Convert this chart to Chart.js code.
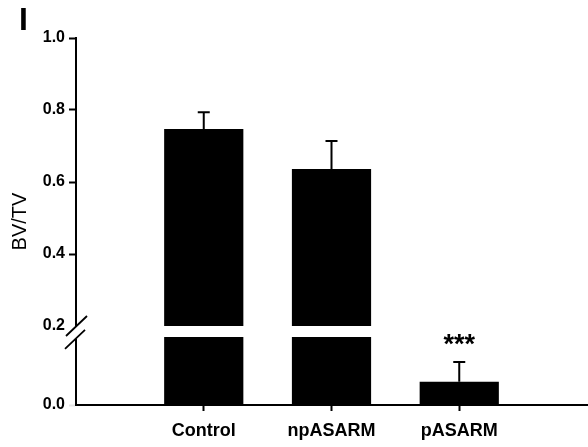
<!DOCTYPE html>
<html>
<head>
<meta charset="utf-8">
<script src="https://cdn.jsdelivr.net/npm/chart.js@4.4.1/dist/chart.umd.min.js"></script>
<style>
  html, body { margin: 0; padding: 0; background: #fff; }
</style>
</head>
<body>
<canvas id="chart" width="588" height="447"></canvas>
<script>
const categories = ['Control', 'npASARM', 'pASARM'];
const means = [0.747, 0.636, 0.068];
const errors = [0.047, 0.078, 0.058];
const stars = ['', '', '***'];
const breakAt = 0.2;
const upperTicks = [0.2, 0.4, 0.6, 0.8, 1.0];
const lowerTicks = [0.0];

const FONT = "'Liberation Sans', Arial, sans-serif";

// blank slots at each end so the axis runs one category past the bars
const labels = [''].concat(categories, ['']);
const pad = arr => [null].concat(arr, [null]);

const lowerBars = pad(means.map(v => [0, Math.min(v, breakAt)]));
const upperBars = pad(means.map(v => v > breakAt ? [breakAt, v] : null));

const extras = {
    id: 'extras',
    afterDatasetsDraw(chart) {
        const ctx = chart.ctx;
        const x = chart.scales.x, hi = chart.scales.yHigh, lo = chart.scales.yLow;
        ctx.save();
        ctx.strokeStyle = '#000';
        ctx.fillStyle = '#000';
        ctx.lineWidth = 2;

        // error bars (upper side only)
        means.forEach((m, i) => {
            const top = m + errors[i];
            const s = top > breakAt ? hi : lo;
            const px = x.getPixelForValue(i + 1);
            const y0 = s.getPixelForValue(m);
            const y1 = s.getPixelForValue(top);
            ctx.beginPath();
            ctx.moveTo(px, y0);
            ctx.lineTo(px, y1);
            ctx.moveTo(px - 6, y1);
            ctx.lineTo(px + 6, y1);
            ctx.stroke();
            if (stars[i]) {
                ctx.font = 'bold 27px ' + FONT;
                ctx.textAlign = 'center';
                ctx.textBaseline = 'middle';
                ctx.fillText(stars[i], px, y1 - 17);
            }
        });

        // axis break marks
        const ax = hi.right;
        const gTop = hi.bottom, gBot = lo.getPixelForValue(breakAt);
        ctx.fillStyle = '#fff';
        ctx.fillRect(ax - 3, gTop + 1, 6, gBot - gTop + 1);
        ctx.lineWidth = 1.8;
        ctx.beginPath();
        ctx.moveTo(ax - 10, gTop + 10);
        ctx.lineTo(ax + 11, gTop - 10);
        ctx.moveTo(ax - 11, gBot + 12);
        ctx.lineTo(ax + 9, gBot - 7);
        ctx.stroke();

        // axis title and panel letter
        ctx.fillStyle = '#000';
        ctx.save();
        ctx.translate(20, (hi.top + lo.bottom) / 2);
        ctx.rotate(-Math.PI / 2);
        ctx.font = '20px ' + FONT;
        ctx.textAlign = 'center';
        ctx.textBaseline = 'middle';
        ctx.fillText('BV/TV', 0, 0);
        ctx.restore();

        ctx.font = 'bold 32px ' + FONT;
        ctx.textAlign = 'left';
        ctx.textBaseline = 'alphabetic';
        ctx.fillText('I', 19, 30);
        ctx.restore();
    }
};

const yCommon = {
    type: 'linear',
    position: 'left',
    stack: 'y',
    border: { color: '#000', width: 2 },
    grid: { drawOnChartArea: false, tickLength: 7, tickWidth: 2 },
    ticks: {
        color: '#000',
        padding: 4,
        font: { family: FONT, size: 16, weight: 'bold' },
        callback: v => v.toFixed(1)
    },
    afterFit: s => { s.width = 76; }
};

new Chart(document.getElementById('chart'), {
    type: 'bar',
    data: {
        labels: labels,
        datasets: [
            { data: lowerBars, yAxisID: 'yLow', backgroundColor: '#000', grouped: false,
              barPercentage: 0.62, categoryPercentage: 1 },
            { data: upperBars, yAxisID: 'yHigh', backgroundColor: '#000', grouped: false,
              barPercentage: 0.62, categoryPercentage: 1 }
        ]
    },
    options: {
        responsive: false,
        animation: false,
        devicePixelRatio: 1,
        layout: { padding: { top: 38, right: 1, left: 0, bottom: 0 } },
        plugins: { legend: { display: false }, tooltip: { enabled: false } },
        scales: {
            x: {
                offset: false,
                border: { color: '#000', width: 2 },
                grid: {
                    offset: false,
                    drawOnChartArea: false, tickLength: 6, tickWidth: 2,
                    tickColor: c => (c.tick && c.tick.label) ? '#000' : 'rgba(0,0,0,0)'
                },
                ticks: {
                    color: '#000',
                    padding: 9,
                    maxRotation: 0,
                    autoSkip: false,
                    font: { family: FONT, size: 18, weight: 'bold' }
                },
                afterFit: s => {
                    s.height = 42;
                    // end labels are blank, so no side padding is needed
                    s.paddingLeft = 0;
                    s.paddingRight = 0;
                }
            },
            yLow: Object.assign({}, yCommon, {
                min: 0, max: 0.232, stackWeight: 79,
                afterBuildTicks: s => { s.ticks = lowerTicks.map(v => ({ value: v })); }
            }),
            yHigh: Object.assign({}, yCommon, {
                min: 0.2, max: 1.0, stackWeight: 288,
                grid: Object.assign({}, yCommon.grid, {
                    tickColor: c => (c.tick && Math.abs(c.tick.value - breakAt) < 1e-6) ? 'rgba(0,0,0,0)' : '#000'
                }),
                afterBuildTicks: s => { s.ticks = upperTicks.map(v => ({ value: v })); }
            })
        }
    },
    plugins: [extras]
});
</script>
</body>
</html>
